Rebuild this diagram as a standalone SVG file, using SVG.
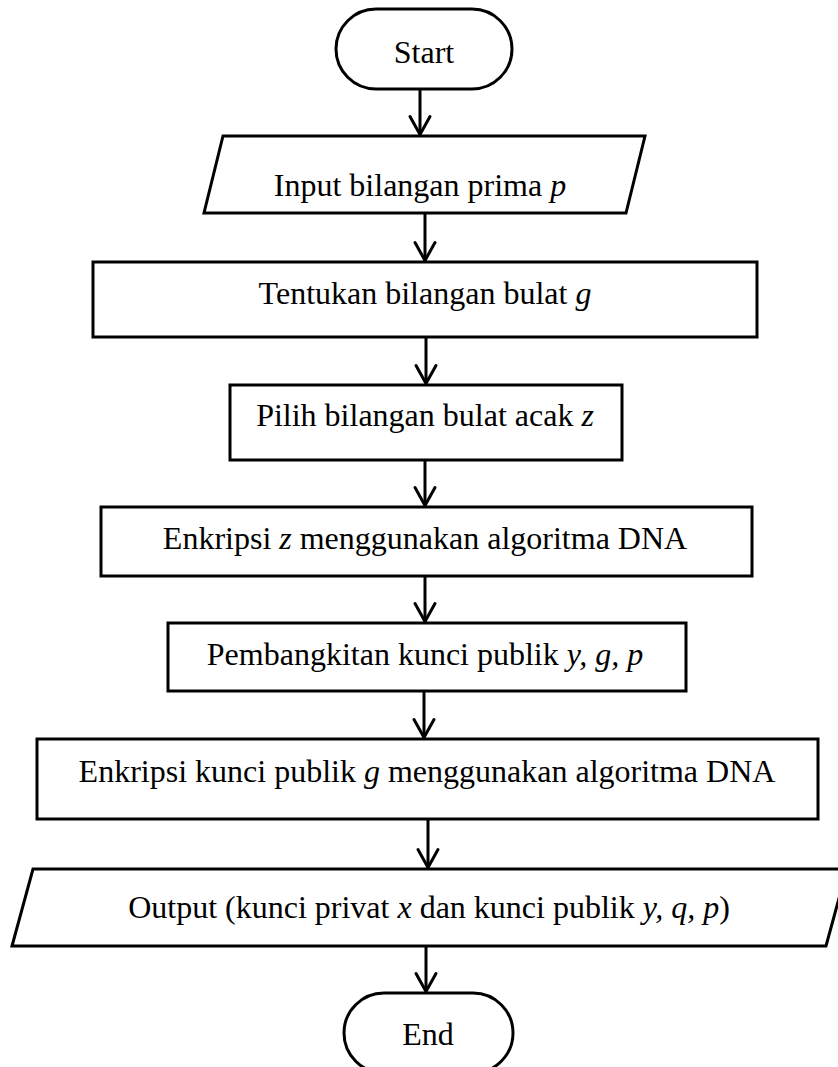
<svg xmlns="http://www.w3.org/2000/svg" width="838" height="1067" viewBox="0 0 838 1067">
<style>
.s{fill:#fff;stroke:#000;stroke-width:3;stroke-linejoin:miter}
.t{font-family:"Liberation Serif","Times New Roman",serif;font-size:32px;fill:#000;text-anchor:middle}
.m{font-style:italic}
.c{fill:none;stroke:#000;stroke-width:3}
</style>
<defs>
<marker id="arr" markerUnits="userSpaceOnUse" orient="auto" markerWidth="40" markerHeight="40" viewBox="-20 -20 40 40" refX="0" refY="0" overflow="visible">
<path d="M-18,-10 L0,0 L-18,10" fill="none" stroke="#000" stroke-width="3" stroke-linejoin="round" stroke-linecap="round"/>
</marker>
</defs>
<rect width="838" height="1067" fill="#fff"/>
<g id="connectors">
<line class="c" x1="420" y1="89" x2="420" y2="134.5" marker-end="url(#arr)"/>
<line class="c" x1="425" y1="213" x2="425" y2="260.5" marker-end="url(#arr)"/>
<line class="c" x1="426" y1="337" x2="426" y2="383.5" marker-end="url(#arr)"/>
<line class="c" x1="425" y1="460" x2="425" y2="505.5" marker-end="url(#arr)"/>
<line class="c" x1="425" y1="576" x2="425" y2="621.5" marker-end="url(#arr)"/>
<line class="c" x1="424" y1="691" x2="424" y2="737.5" marker-end="url(#arr)"/>
<line class="c" x1="428" y1="819" x2="428" y2="867.5" marker-end="url(#arr)"/>
<line class="c" x1="426" y1="946" x2="426" y2="991.5" marker-end="url(#arr)"/>
</g>
<g id="start">
<rect class="s" x="336" y="9" width="176" height="80" rx="40" ry="40"/>
<text class="t" x="424" y="63">Start</text>
</g>
<g id="input">
<polygon class="s" points="223,136 645,136 626,213 204,213"/>
<text class="t" x="420" y="196">Input bilangan prima <tspan class="m">p</tspan></text>
</g>
<g id="tentukan">
<rect class="s" x="93" y="262" width="664" height="75"/>
<text class="t" x="425" y="304">Tentukan bilangan bulat <tspan class="m">g</tspan></text>
</g>
<g id="pilih">
<rect class="s" x="230" y="385" width="392" height="75"/>
<text class="t" x="425" y="426">Pilih bilangan bulat acak <tspan class="m">z</tspan></text>
</g>
<g id="enkripsi-z">
<rect class="s" x="101" y="507" width="651" height="69"/>
<text class="t" x="425" y="549">Enkripsi <tspan class="m">z</tspan> menggunakan algoritma DNA</text>
</g>
<g id="pembangkitan">
<rect class="s" x="168" y="623" width="518" height="68"/>
<text class="t" x="425" y="665">Pembangkitan kunci publik <tspan class="m">y, g, p</tspan></text>
</g>
<g id="enkripsi-kunci">
<rect class="s" x="37" y="739" width="781" height="80"/>
<text class="t" x="427" y="782">Enkripsi kunci publik <tspan class="m">g</tspan> menggunakan algoritma DNA</text>
</g>
<g id="output">
<polygon class="s" points="33,869 847,869 826,946 12,946"/>
<text class="t" x="429" y="918">Output (kunci privat <tspan class="m">x</tspan> dan kunci publik <tspan class="m">y, q, p</tspan>)</text>
</g>
<g id="end">
<rect class="s" x="344" y="993" width="169" height="80" rx="40" ry="40"/>
<text class="t" x="428" y="1045">End</text>
</g>
</svg>
